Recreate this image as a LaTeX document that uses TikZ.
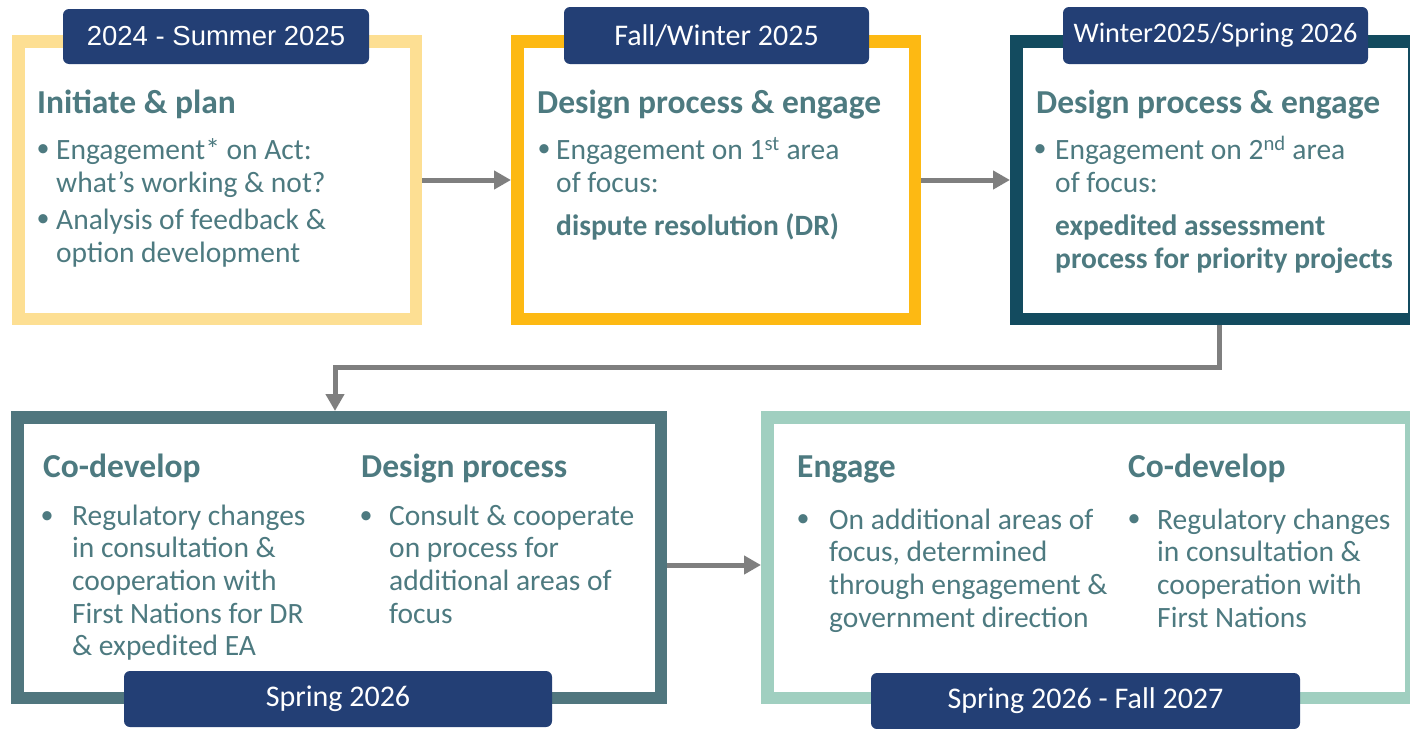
\documentclass[tikz,border=0pt]{standalone}
\usepackage{fontspec}
\setmainfont{Carlito}
\newfontfamily\arialf{Liberation Sans}
\usetikzlibrary{arrows.meta,calc}
\definecolor{tagblue}{HTML}{233F75}
\definecolor{txt}{HTML}{4D7A80}
\definecolor{yl}{HTML}{FDDF93}
\definecolor{og}{HTML}{FDB913}
\definecolor{dk}{HTML}{134B5F}
\definecolor{gt}{HTML}{50767E}
\definecolor{lg}{HTML}{A0CFC0}
\definecolor{arrg}{HTML}{7F7F7F}
\tikzset{
  frame/.style={draw=#1, line width=12.5, fill=white, inner sep=0},
  tag/.style={fill=tagblue, rounded corners=6, text=white, inner sep=0, font=\fontsize{30}{34}\selectfont},
  head/.style={anchor=base west, inner sep=0, text=txt, font=\bfseries\fontsize{33.5}{36}\selectfont},
  body/.style={anchor=north west, inner sep=0, text=txt, align=left, font=\fontsize{29.5}{33}\selectfont},
  bodyb/.style={anchor=north west, inner sep=0, text=txt, align=left, font=\bfseries\fontsize{29.5}{33}\selectfont},
  bodyc/.style={anchor=north west, inner sep=0, text=txt, align=left, font=\fontsize{29.5}{32.6}\selectfont},
  bul/.style={inner sep=0, text=txt, font=\fontsize{26}{30}\selectfont},
  arr/.style={draw=arrg, line width=5, -{Triangle[length=17,width=18]}}
}
\begin{document}
\begin{tikzpicture}[x=1pt,y=-1pt]
\useasboundingbox (0,0) rectangle (1410,728);
% frames
\node[frame=yl, minimum width=397.5, minimum height=277.5] (b1) at (217,180) {};
\node[frame=og, minimum width=397.5, minimum height=277.5] (b2) at (716,180) {};
\node[frame=dk, minimum width=397.5, minimum height=277.5] (b3) at (1215,180) {};
\node[frame=gt, minimum width=643.5, minimum height=280.5] (b4) at (339,557.5) {};
\node[frame=lg, minimum width=643.5, minimum height=280.5] (b5) at (1089,557.5) {};
% tags
\node[tag, minimum width=306, minimum height=55, font=\arialf\fontsize{27.5}{32}\selectfont] (t1) at (216,36.5) {2024 - Summer 2025};
\node[tag, minimum width=305, minimum height=57] (t2) at (716.5,35.5) {Fall/Winter 2025};
\node[tag, minimum width=305, minimum height=57, font=\fontsize{28.3}{32}\selectfont] (t3) at (1215.5,35.5) {Winter2025/Spring 2026};
\node[tag, minimum width=428, minimum height=56] (t4) at (338,699) {Spring 2026};
\node[tag, minimum width=429, minimum height=56] (t5) at (1085.5,701) {Spring 2026 - Fall 2027};
% box 1
\node[head] (h1) at (37,113) {Initiate \& plan};
\node[bul] (d1a) at (43,151) {•};
\node[body] (p1a) at (56,135.9) {\strut Engagement* on Act:\\what’s working \& not?};
\node[bul] (d1b) at (43,221) {•};
\node[body] (p1b) at (56,205.9) {\strut Analysis of feedback \&\\option development};
% box 2
\node[head] (h2) at (537,113) {Design process \& engage};
\node[bul] (d2) at (544,151) {•};
\node[body] (p2) at (556,135.9) {\strut Engagement on 1\textsuperscript{st} area\\of focus:};
\node[bodyb, anchor=base west] (q2) at (556,235) {dispute resolution (DR)};
% box 3
\node[head] (h3) at (1036,113) {Design process \& engage};
\node[bul] (d3) at (1040,151) {•};
\node[body] (p3) at (1055,135.9) {\strut Engagement on 2\textsuperscript{nd} area\\of focus:};
\node[bodyb] (q3) at (1055,211.9) {\strut expedited assessment\\process for priority projects};
% box 4
\node[head] (h4a) at (43,477) {Co-develop};
\node[head] (h4b) at (361,477) {Design process};
\node[bul] (d4a) at (47,518) {•};
\node[bodyc] (p4a) at (72,502.2) {\strut Regulatory changes\\in consultation \&\\cooperation with\\First Nations for DR\\\& expedited EA};
\node[bul] (d4b) at (366,518) {•};
\node[bodyc] (p4b) at (389,502.2) {\strut Consult \& cooperate\\on process for\\additional areas of\\focus};
% box 5
\node[head] (h5a) at (797,477) {Engage};
\node[head] (h5b) at (1128,477) {Co-develop};
\node[bul] (d5a) at (803,521) {•};
\node[bodyc] (p5a) at (829,506.2) {\strut On additional areas of\\focus, determined\\through engagement \&\\government direction};
\node[bul] (d5b) at (1134,521) {•};
\node[bodyc] (p5b) at (1157,506.2) {\strut Regulatory changes\\in consultation \&\\cooperation with\\First Nations};
% connectors
\coordinate (c1) at (1219,367);
\coordinate (c2) at (335,367);
\draw[arr] (b1.east) -- (b2.west);
\draw[arr] (b2.east) -- (b3.west);
\draw[arr] (b3.south -| c1) -- (c1) -- (c2) -- (b4.north -| c2);
\draw[arr] ($(b4.east)+(0,7.5)$) -- ($(b5.west)+(0,7.5)$);
\end{tikzpicture}
\end{document}
